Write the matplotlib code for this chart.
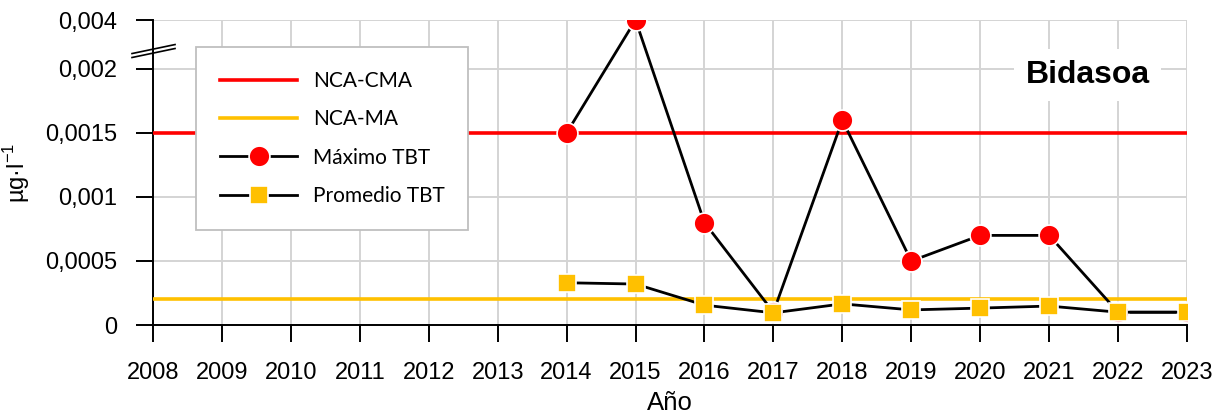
import matplotlib
matplotlib.use("Agg")
import matplotlib.pyplot as plt
import numpy as np

years = [2014, 2015, 2016, 2017, 2018, 2019, 2020, 2021, 2022, 2023]
maximo_tbt = [0.0015, 0.004, 0.0008, 0.0001, 0.0016, 0.0005, 0.0007, 0.0007, 0.0001, 0.0001]
promedio_tbt = [0.00033, 0.00032, 0.000155, 0.000095, 0.000165, 0.000118, 0.000132, 0.000148, 0.0001, 0.0001]
nca_cma = 0.0015
nca_ma = 0.0002
x_ticks = list(range(2008, 2024))
y_ticks = [0, 0.0005, 0.001, 0.0015, 0.002, 0.004]
y_tick_labels = ["0", "0,0005", "0,001", "0,0015", "0,002", "0,004"]

BREAK = 0.002
SQUEEZE = 49 / 256  # upper segment compressed


def fwd(y):
    y = np.asarray(y, dtype=float)
    return np.where(y <= BREAK, y, BREAK + (y - BREAK) * SQUEEZE)


def inv(y):
    y = np.asarray(y, dtype=float)
    return np.where(y <= BREAK, y, BREAK + (y - BREAK) / SQUEEZE)


plt.rcParams['font.family'] = ['Liberation Sans', 'DejaVu Sans']
plt.rcParams['mathtext.fontset'] = 'custom'
plt.rcParams['mathtext.rm'] = 'Liberation Sans'

fig = plt.figure(figsize=(12.23, 4.16), dpi=100)
ax = fig.add_axes([153 / 1223, 1 - 325 / 416, 1034 / 1223, 305 / 416])
ax.set_yscale('function', functions=(fwd, inv))

red = '#ff0000'
yellow = '#ffc000'

ax.axhline(nca_cma, color=red, lw=2.6, zorder=3, label='NCA-CMA')
ax.axhline(nca_ma, color=yellow, lw=2.6, zorder=3, label='NCA-MA')
ax.plot(years, maximo_tbt, color='black', lw=2.0, marker='o', ms=15,
        mfc=red, mec='white', mew=1.2, zorder=4, label='Máximo TBT')
ax.plot(years, promedio_tbt, color='black', lw=2.0, marker='s', ms=13,
        mfc=yellow, mec='white', mew=1.2, zorder=5, label='Promedio TBT')

ax.set_xlim(2008, 2023)
ax.set_ylim(0, 0.004)
ax.set_xticks(x_ticks)
ax.set_yticks(y_ticks)
ax.set_yticklabels(y_tick_labels)
ax.tick_params(axis='both', direction='out', length=12.5, width=1.4,
               labelsize=17)
ax.tick_params(axis='x', pad=14)
ax.tick_params(axis='y', pad=13)
ax.grid(True, color='#d4d4d4', lw=1.4, zorder=0)
ax.set_axisbelow(True)
for s in ['top', 'right']:
    ax.spines[s].set_visible(False)
for s in ['left', 'bottom']:
    ax.spines[s].set_linewidth(1.4)

ax.set_xlabel('Año', fontsize=18.5, labelpad=5)
ax.set_ylabel(r'µg·l$^{\mathregular{-1}}$', fontsize=17, labelpad=10)

# break marks on the y axis
for y0 in (0.877, 0.890):
    ax.plot([-0.0203, 0.0213], [y0, y0 + 0.0295], transform=ax.transAxes,
            color='black', lw=1.2, clip_on=False, zorder=6)

ax.text(0.904, 0.82, 'Bidasoa', transform=ax.transAxes, fontsize=23,
        fontweight='bold', ha='center', va='center', zorder=6,
        bbox=dict(facecolor='white', edgecolor='none', pad=8))

leg = ax.legend(loc='upper left', bbox_to_anchor=(0.0416, 0.911),
                prop={'family': ['Lato', 'DejaVu Sans'], 'size': 15},
                frameon=True, fancybox=False, framealpha=1,
                edgecolor='#bfbfbf', handlelength=3.7, labelspacing=0.88,
                borderpad=1.15, handletextpad=0.75, borderaxespad=0)
leg.get_frame().set_linewidth(1.3)
leg.set_zorder(7)

fig.savefig('out.png', dpi=100)
